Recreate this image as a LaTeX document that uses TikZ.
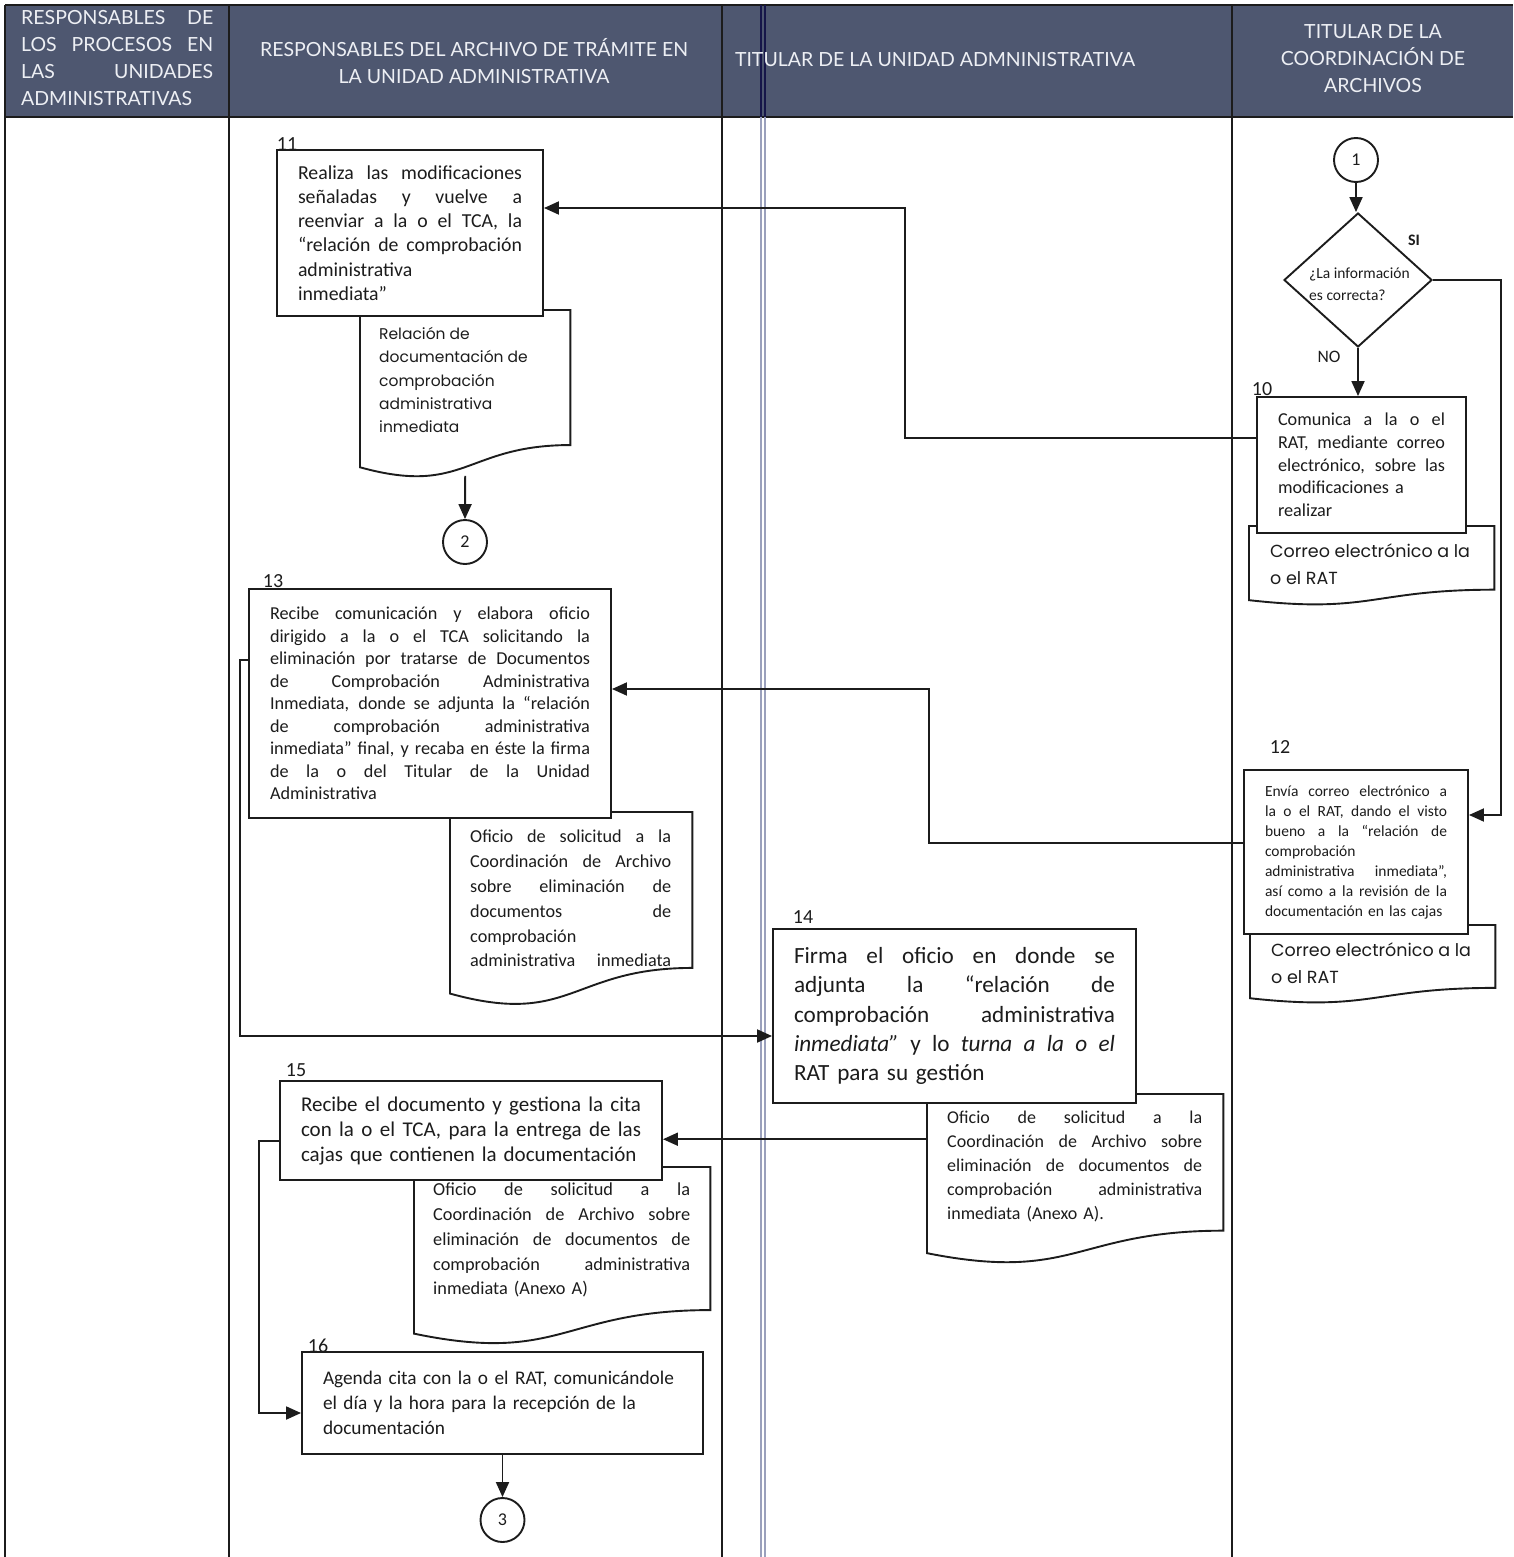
\documentclass[tikz,border=0pt]{standalone}
\usepackage{fontspec}
\setmainfont{Carlito}
\newfontfamily\hdrfont{Lato}
\newfontfamily\gothic{Poppins}
\usetikzlibrary{arrows.meta,calc,shapes.geometric}
\definecolor{hdrbg}{HTML}{4E5770}
\definecolor{hdrtx}{HTML}{EDEFF4}
\definecolor{ink}{HTML}{1C1C1C}
\definecolor{dbl}{HTML}{9AA0BC}
\newcommand\jl[1]{\leavevmode\hbox to \linewidth{\spaceskip=\fontdimen2\font plus 1fil\relax #1}\\}
\newcommand\fs[2]{\fontsize{#1}{#2}\selectfont}
\newcommand\docpath[1]{%
  \draw[ln,fill=white] (#1.north west) -- (#1.north east)
   -- ($(#1.north east)!0.802!(#1.south east)$)
   .. controls ($(#1.north)!0.802!(#1.south)$) and ($(#1.north)!1.107!(#1.south)$)
   .. ($(#1.north west)!0.934!(#1.south west)$) -- cycle;}
\begin{document}
\begin{tikzpicture}[x=1pt,y=-1pt,
  ln/.style={draw=ink,line width=1.9pt},
  arr/.style={ln,-{Triangle[length=15pt,width=13pt]}},
  grid/.style={draw=ink,line width=1.3pt},
  hdr/.style={text=hdrtx,font=\hdrfont\fs{19.5}{27},inner sep=0,align=center},
  pbox/.style={ln,fill=white,inner xsep=21pt,inner ysep=3pt,align=left,text=ink},
  docr/.style={draw=none,inner sep=0,anchor=north west},
  dtext/.style={inner sep=0,anchor=north west,align=left,text=ink},
  numl/.style={inner sep=0,text=ink,font=\fs{20}{20}},
  conn/.style={circle,ln,fill=white,minimum size=44pt,inner sep=0,font=\fs{18}{18},text=ink}]
\useasboundingbox (0,0) rectangle (1513,1557);
% header
\fill[hdrbg] (5,5) rectangle (1513,117);
\draw[grid] (5,5) -- (1513,5);
\draw[grid] (5,117) -- (1513,117);
\draw[grid] (5,5) -- (5,1557);
\draw[grid] (229,5) -- (229,1557);
\draw[grid] (722,5) -- (722,1557);
\draw[grid] (1232,5) -- (1232,1557);
\draw[draw=dbl,line width=1.2pt] (761,117) -- (761,1557);
\draw[draw=dbl,line width=1.2pt] (765,117) -- (765,1557);
\draw[draw=ink!80!blue,line width=1.2pt] (761,5) -- (761,117);
\draw[draw=ink!80!blue,line width=1.2pt] (765,5) -- (765,117);
\node[hdr,align=left,text width=192pt,anchor=north west] (h1) at (21,10) {%
\jl{RESPONSABLES DE}\jl{LOS PROCESOS EN}\jl{LAS UNIDADES}ADMINISTRATIVAS};
\node[hdr] (h2) at (474,61) {RESPONSABLES DEL ARCHIVO DE TRÁMITE EN\\LA UNIDAD ADMINISTRATIVA};
\node[hdr] (h3) at (935,60) {TITULAR DE LA UNIDAD ADMNINISTRATIVA};
\node[hdr] (h4) at (1373,59) {TITULAR DE LA\\COORDINACIÓN DE\\ARCHIVOS};
% documents (drawn first, behind the boxes)
\node[docr,minimum width=245,minimum height=79] (d10) at (1249,526) {};
\docpath{d10}
\node[dtext,font=\gothic\fs{17.5}{27}] (t10) at (1270,543) {Correo electrónico a la\\o el RAT};
\node[docr,minimum width=245,minimum height=78] (d12) at (1250,925) {};
\docpath{d12}
\node[dtext,font=\gothic\fs{17.5}{27}] (t12) at (1271,942) {Correo electrónico a la\\o el RAT};
\node[docr,minimum width=210,minimum height=168] (d11) at (360,310) {};
\docpath{d11}
\node[dtext,font=\gothic\fs{15.5}{23.3}] (t11) at (379,327) {Relación de\\documentación de\\comprobación\\administrativa\\inmediata};
\node[docr,minimum width=242,minimum height=194] (d13) at (450,812) {};
\docpath{d13}
\node[dtext,text width=201pt,font=\fs{18.2}{24.8}] (t13) at (470,830) {%
\jl{Oficio de solicitud a la}\jl{Coordinación de Archivo}\jl{sobre eliminación de}\jl{documentos de}comprobación\\\jl{administrativa inmediata}};
\node[docr,minimum width=296,minimum height=170] (d14) at (927,1094) {};
\docpath{d14}
\node[dtext,text width=255pt,font=\fs{18}{24}] (t14) at (947,1111) {%
\jl{Oficio de solicitud a la}\jl{Coordinación de Archivo sobre}\jl{eliminación de documentos de}\jl{comprobación administrativa}inmediata (Anexo A).};
\node[docr,minimum width=296,minimum height=178] (d15) at (414,1167) {};
\docpath{d15}
\node[dtext,text width=257pt,font=\fs{18.3}{24.7}] (t15) at (433,1183) {%
\jl{Oficio de solicitud a la}\jl{Coordinación de Archivo sobre}\jl{eliminación de documentos de}\jl{comprobación administrativa}inmediata (Anexo A)};
% process boxes
\node[pbox,minimum width=209,minimum height=136,text width=167pt,font=\fs{18.2}{22.7}] (b10) at (1361.5,465) {%
\jl{Comunica a la o el}\jl{RAT, mediante correo}\jl{electrónico, sobre las}modificaciones a\\realizar};
\node[pbox,minimum width=266,minimum height=166,text width=224pt,font=\fs{19.8}{24.3}] (b11) at (410,233) {%
\jl{Realiza las modificaciones}\jl{señaladas y vuelve a}\jl{reenviar a la o el TCA, la}\jl{“relación de comprobación}administrativa\\inmediata”};
\node[pbox,minimum width=224,minimum height=164,text width=182pt,font=\fs{15.5}{20}] (b12) at (1356,852) {%
\jl{Envía correo electrónico a}\jl{la o el RAT, dando el visto}\jl{bueno a la “relación de}comprobación\\\jl{administrativa inmediata”,}\jl{así como a la revisión de la}documentación en las cajas};
\node[pbox,minimum width=362,minimum height=229,text width=320pt,font=\fs{18.2}{22.5}] (b13) at (430,703.5) {%
\jl{Recibe comunicación y elabora oficio}\jl{dirigido a la o el TCA solicitando la}\jl{eliminación por tratarse de Documentos}\jl{de Comprobación Administrativa}\jl{Inmediata, donde se adjunta la “relación}\jl{de comprobación administrativa}\jl{inmediata” final, y recaba en éste la firma}\jl{de la o del Titular de la Unidad}Administrativa};
\node[pbox,minimum width=363,minimum height=174,text width=321pt,font=\fs{23.2}{29.3}] (b14) at (954.5,1016) {%
\jl{Firma el oficio en donde se}\jl{adjunta la “relación de}\jl{comprobación administrativa}\jl{\textit{inmediata”} y lo \textit{turna a la o el}}RAT para su gestión};
\node[pbox,minimum width=382,minimum height=99,text width=340pt,font=\fs{21}{25}] (b15) at (471,1130.5) {%
\jl{Recibe el documento y gestiona la cita}\jl{con la o el TCA, para la entrega de las}cajas que contienen la documentación};
\node[pbox,minimum width=401,minimum height=102,text width=359pt,font=\fs{19.3}{25}] (b16) at (502.5,1403) {%
Agenda cita con la o el RAT, comunicándole\\el día y la hora para la recepción de la\\documentación};
% numbers
\node[numl] (n11) at (287,144) {11};
\node[numl] (n10) at (1262,389) {10};
\node[numl] (n12) at (1280,747) {12};
\node[numl] (n13) at (273,581) {13};
\node[numl] (n14) at (803,917) {14};
\node[numl] (n15) at (296,1070) {15};
\node[numl] (n16) at (318,1346) {16};
% decision and connectors
\node[conn] (c1) at (1356,160) {1};
\node[diamond,ln,fill=white,minimum width=148pt,minimum height=134pt,inner sep=0] (dia) at (1358,280) {};
\node[inner sep=0,align=left,font=\fs{15.5}{22},text=ink,anchor=west] (dtx) at (1309,284) {¿La información\\es correcta?};
\node[inner sep=0,font=\bfseries\fs{16}{16},text=ink] (si) at (1414,240) {SI};
\node[inner sep=0,font=\fs{17.5}{17.5},text=ink] (no) at (1329,357) {NO};
\node[conn] (c2) at (465,542) {2};
\node[conn] (c3) at (502.5,1520) {3};
% flows
\draw[arr] (c1.south) -- (c1.south |- dia.north);
\draw[arr] (dia.south) -- (dia.south |- b10.north);
\draw[arr] (dia.east) -- ++(68,0) |- ([yshift=37pt]b12.east);
\draw[arr] ([yshift=27pt]b10.west) -- ++(-351,0) |- ([yshift=25pt]b11.east);
\draw[arr] ($(d11.north)!0.985!(d11.south)$) -- (c2.north);
\draw[arr] ([yshift=9pt]b12.west) -- ++(-314,0) |- ([yshift=14.5pt]b13.east);
\draw[arr] ([yshift=43.5pt]b13.west) -- ++(-8,0) |- ([yshift=-20pt]b14.west);
\draw[arr] ([yshift=40pt]d14.west) -- ([yshift=40pt]d14.west -| b15.east);
\draw[arr] ([yshift=-10.5pt]b15.west) -- ++(-20,0) |- ([yshift=-10pt]b16.west);
\draw[arr] (b16.south) -- (c3.north);
\end{tikzpicture}
\end{document}
